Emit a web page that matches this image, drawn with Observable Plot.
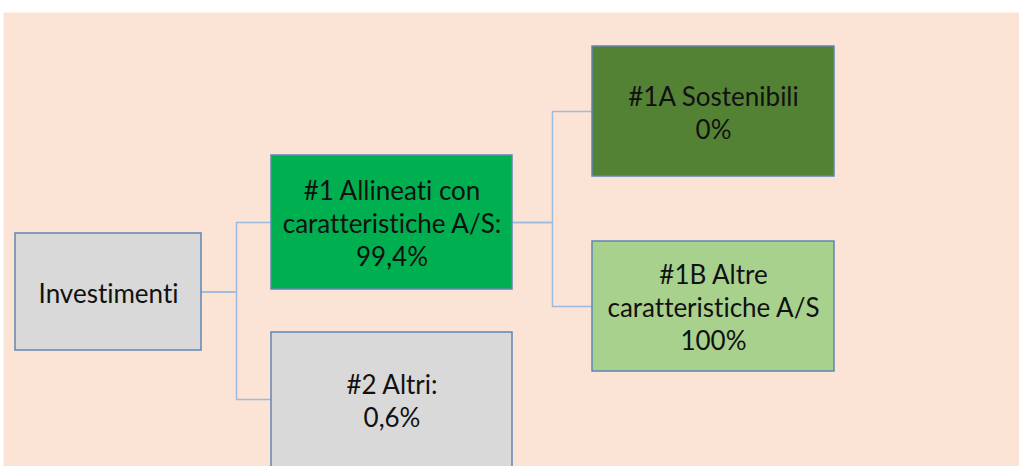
<!DOCTYPE html>
<html>
<head>
<meta charset="utf-8">
<script src="https://cdn.jsdelivr.net/npm/d3@7"></script>
<script src="https://cdn.jsdelivr.net/npm/@observablehq/plot@0.6"></script>
<style>
  html, body { margin: 0; padding: 0; background: #ffffff; }
  #chart svg { display: block; }
  #chart text { font-variant-ligatures: none; font-feature-settings: "liga" 0, "clig" 0; }
</style>
</head>
<body>
<div id="chart"></div>
<script>
// ---- data ----
const nodeIds = ["inv", "n1", "n1a", "n1b", "n2"];
const nodeLabels = [
  "Investimenti",
  "#1 Allineati con\ncaratteristiche A/S:",
  "#1A Sostenibili",
  "#1B Altre\ncaratteristiche A/S",
  "#2 Altri:"
];
const nodeShares = ["", "99,4%", "0%", "100%", "0,6%"];
const nodeParents = [null, "inv", "n1", "n1", "inv"];
const nodeDepth = [0, 1, 2, 2, 1];
const nodeFills = ["#d9d9d9", "#00b050", "#548235", "#a9d18e", "#d9d9d9"];

// ---- layout (diagram geometry, in page pixels) ----
const W = 1019, H = 466;
const columns = [ {x1: 15, x2: 201}, {x1: 271, x2: 512}, {x1: 592, x2: 834} ];
const rowCenter = {inv: 291.5, n1: 222, n1a: 111, n1b: 306, n2: 399};
const rowHeight = {inv: 117, n1: 134, n1a: 130, n1b: 130, n2: 134};

const nodes = nodeIds.map((id, i) => {
  const c = columns[nodeDepth[i]];
  const cy = rowCenter[id], h = rowHeight[id];
  return {
    id, fill: nodeFills[i],
    x1: c.x1, x2: c.x2, y1: cy - h / 2, y2: cy + h / 2,
    cx: (c.x1 + c.x2) / 2, cy,
    text: nodeShares[i] ? nodeLabels[i] + "\n" + nodeShares[i] : nodeLabels[i]
  };
});
const byId = Object.fromEntries(nodes.map(d => [d.id, d]));
const links = nodeIds
  .map((id, i) => nodeParents[i] ? {source: byId[nodeParents[i]], target: byId[id]} : null)
  .filter(Boolean);

const chart = Plot.plot({
  width: W,
  height: H,
  marginTop: 12, marginLeft: 3, marginRight: 0, marginBottom: 0,
  x: {domain: [0, W], range: [0, W], axis: null},
  y: {domain: [0, H], range: [0, H], axis: null},
  style: {background: "#ffffff", overflow: "hidden"},
  marks: [
    Plot.frame({fill: "#fbe3d6", stroke: null}),
    Plot.link(links, {
      x1: d => d.source.x2, y1: d => d.source.cy,
      x2: d => d.target.x1, y2: d => d.target.cy,
      curve: "step", stroke: "#9dbbe0", strokeWidth: 1.5
    }),
    Plot.rect(nodes, {
      x1: "x1", x2: "x2", y1: "y1", y2: d => d.id === "n2" ? H + 10 : d.y2,
      fill: "fill", stroke: "#5f86b3", strokeWidth: 1.5
    }),
    Plot.text(nodes, {
      x: "cx", y: "cy", text: "text",
      fontSize: 26, lineHeight: 1.27,
      fontFamily: "Lato, 'Open Sans', sans-serif",
      fill: "#111111", textAnchor: "middle", lineAnchor: "middle"
    })
  ]
});
document.getElementById("chart").appendChild(chart);
</script>
</body>
</html>
